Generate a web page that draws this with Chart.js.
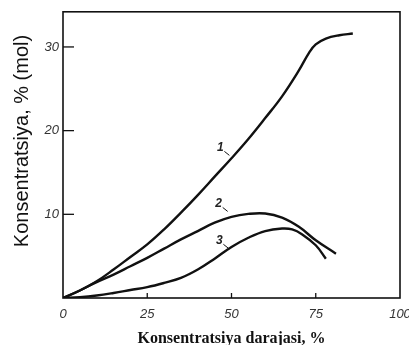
<!DOCTYPE html>
<html>
<head>
<meta charset="utf-8">
<script src="https://cdn.jsdelivr.net/npm/chart.js@4.4.1/dist/chart.umd.min.js"></script>
<style>
  body { margin: 0; background: #fff; }
  canvas { display: block; }
</style>
</head>
<body>
<canvas id="chart" width="409" height="345"></canvas>
<script>
// tick values
const xTicks = [0, 25, 50, 75, 100]
const yTicks = [10, 20, 30]

// curve 1
const x1 = [0, 5, 10, 15, 20, 25, 30, 35, 40, 45, 50, 55, 60, 65, 70, 73, 75, 78, 82, 86]
const y1 = [0, 0.9, 2.0, 3.4, 4.9, 6.4, 8.2, 10.2, 12.3, 14.5, 16.7, 19.0, 21.5, 24.1, 27.2, 29.3, 30.3, 31.0, 31.4, 31.6]
// curve 2
const x2 = [0, 5, 10, 15, 20, 25, 30, 35, 40, 45, 50, 55, 60, 65, 70, 75, 81]
const y2 = [0, 0.9, 1.9, 2.8, 3.8, 4.8, 5.9, 7.0, 8.0, 9.0, 9.7, 10.05, 10.1, 9.6, 8.5, 6.9, 5.3]
// curve 3
const x3 = [0, 5, 10, 15, 20, 25, 30, 35, 40, 45, 50, 55, 60, 65, 68, 71, 75, 78]
const y3 = [0, 0.1, 0.3, 0.6, 0.95, 1.3, 1.8, 2.4, 3.4, 4.7, 6.1, 7.2, 8.0, 8.3, 8.2, 7.6, 6.3, 4.7]

// curve labels: [text, x, y]
const curveLabels = [['1', 46.7, 18.0], ['2', 46.2, 11.3], ['3', 46.4, 6.9]]

const toPoints = (xs, ys) => xs.map((v, i) => ({ x: v, y: ys[i] }))

const lineStyle = {
    borderColor: '#111',
    borderWidth: 2.4,
    pointRadius: 0,
    fill: false,
    tension: 0.4
}

const frame = {
    id: 'frame',
    afterDraw(chart) {
        const ctx = chart.ctx
        const a = chart.chartArea
        const xs = chart.scales.x
        const ys = chart.scales.y
        ctx.save()
        ctx.strokeStyle = '#111'
        ctx.lineWidth = 1.6
        ctx.strokeRect(a.left, a.top, a.right - a.left, a.bottom - a.top)
        // inner ticks
        ctx.lineWidth = 1.3
        yTicks.forEach(v => {
            const p = ys.getPixelForValue(v)
            ctx.beginPath()
            ctx.moveTo(a.left, p)
            ctx.lineTo(a.left + 11, p)
            ctx.stroke()
        })
        xTicks.slice(1, 4).forEach(v => {
            const p = xs.getPixelForValue(v)
            ctx.beginPath()
            ctx.moveTo(p, a.bottom)
            ctx.lineTo(p, a.bottom - 5)
            ctx.stroke()
        })
        // curve numbers
        ctx.fillStyle = '#222'
        ctx.font = 'italic bold 12px "Liberation Sans"'
        ctx.textAlign = 'center'
        ctx.textBaseline = 'middle'
        curveLabels.forEach(l => {
            const px = xs.getPixelForValue(l[1])
            const py = ys.getPixelForValue(l[2])
            ctx.fillText(l[0], px, py)
            ctx.lineWidth = 1
            ctx.beginPath()
            ctx.moveTo(px + 4, py + 4)
            ctx.lineTo(px + 9, py + 8)
            ctx.stroke()
        })
        // y axis title
        ctx.translate(22, 141)
        ctx.rotate(-Math.PI / 2)
        ctx.fillStyle = '#111'
        ctx.font = '20px "Liberation Sans"'
        ctx.fillText('Konsentratsiya, % (mol)', 0, 0)
        ctx.restore()
    }
}

new Chart(document.getElementById('chart'), {
    type: 'line',
    data: {
        datasets: [
            { ...lineStyle, label: '1', data: toPoints(x1, y1) },
            { ...lineStyle, label: '2', data: toPoints(x2, y2) },
            { ...lineStyle, label: '3', data: toPoints(x3, y3) }
        ]
    },
    options: {
        responsive: false,
        animation: false,
        layout: { padding: { left: 0, top: 11, right: 0, bottom: 0 } },
        plugins: { legend: { display: false }, tooltip: { enabled: false } },
        scales: {
            x: {
                type: 'linear',
                min: 0,
                max: 100,
                afterBuildTicks: s => { s.ticks = xTicks.map(v => ({ value: v })) },
                afterFit: s => {
                    s.height = 47
                    s.paddingRight = 9
                    s.paddingLeft = 0
                },
                grid: { display: false, drawTicks: false },
                border: { display: false },
                ticks: {
                    padding: 9,
                    color: '#333',
                    font: { family: 'Liberation Sans', size: 13, style: 'italic' }
                },
                title: {
                    display: true,
                    text: 'Konsentratsiya darajasi, %',
                    color: '#111',
                    padding: { top: 0, bottom: -3 },
                    font: { family: 'Liberation Serif', size: 16, weight: 'bold' }
                }
            },
            y: {
                min: 0,
                max: 34.2,
                afterBuildTicks: s => { s.ticks = yTicks.map(v => ({ value: v })) },
                afterFit: s => { s.width = 63 },
                grid: { display: false, drawTicks: false },
                border: { display: false },
                ticks: {
                    padding: 4,
                    color: '#333',
                    font: { family: 'Liberation Sans', size: 13, style: 'italic' }
                }
            }
        }
    },
    plugins: [frame]
})
</script>
</body>
</html>
